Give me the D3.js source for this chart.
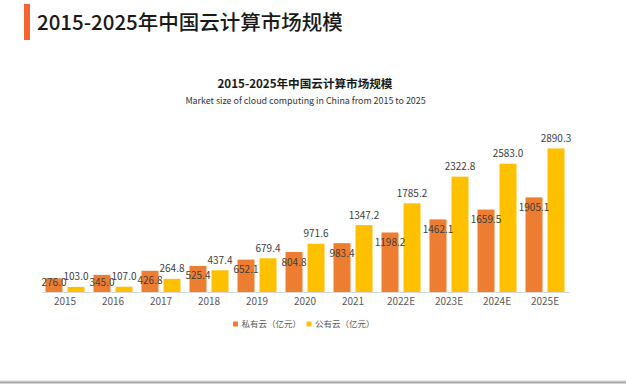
<!DOCTYPE html>
<html>
<head>
<meta charset="utf-8">
<script src="https://cdn.jsdelivr.net/npm/d3@7"></script>
<style>
  body { margin: 0; background: #fff; }
  svg { display: block; }
</style>
</head>
<body>
<svg id="chart" width="626" height="386"></svg>
<script>
// data
const years = ["2015", "2016", "2017", "2018", "2019", "2020", "2021", "2022E", "2023E", "2024E", "2025E"];
const privateCloud = [276.0, 345.0, 426.8, 525.4, 652.1, 804.8, 983.4, 1198.2, 1462.1, 1659.5, 1905.1];
const publicCloud = [103.0, 107.0, 264.8, 437.4, 679.4, 971.6, 1347.2, 1785.2, 2322.8, 2583.0, 2890.3];
const seriesNames = ["私有云（亿元）", "公有云（亿元）"];
const colors = ["#ED7D31", "#FFC000"];

const svg = d3.select("#chart");
const cjk = "'Noto Sans CJK SC', 'Noto Sans', sans-serif";

// page header
svg.append("rect").attr("x", 24).attr("y", 4).attr("width", 6).attr("height", 36).attr("fill", "#F7632F");
svg.append("text")
  .attr("x", 37).attr("y", 30)
  .attr("font-family", cjk).attr("font-size", 20.5).attr("font-weight", 500)
  .attr("fill", "#1a1a1a")
  .text("2015-2025年中国云计算市场规模");

// chart titles
svg.append("text")
  .attr("x", 305).attr("y", 87.5)
  .attr("text-anchor", "middle")
  .attr("font-family", cjk).attr("font-size", 11.6).attr("font-weight", 700)
  .attr("fill", "#1a1a1a")
  .text("2015-2025年中国云计算市场规模");
svg.append("text")
  .attr("x", 305.5).attr("y", 104)
  .attr("text-anchor", "middle")
  .attr("font-family", cjk).attr("font-size", 8.9)
  .attr("fill", "#333")
  .text("Market size of cloud computing in China from 2015 to 2025");

// scales
const x0 = d3.scaleBand().domain(years).range([41, 569]);
const x1 = d3.scaleBand().domain([0, 1]).range([4.5, 43.5]).paddingInner(0.227);
const y = d3.scaleLinear().domain([0, 3000]).range([292, 143]);

const rows = years.map((yr, i) => ({ yr: yr, vals: [privateCloud[i], publicCloud[i]] }));

const groups = svg.append("g").selectAll("g")
  .data(rows).join("g")
  .attr("transform", d => `translate(${x0(d.yr)},0)`);

groups.selectAll("rect")
  .data(d => d.vals.map((v, k) => ({ v: v, k: k })))
  .join("rect")
  .attr("x", d => x1(d.k))
  .attr("y", d => y(d.v))
  .attr("width", x1.bandwidth())
  .attr("height", d => y(0) - y(d.v))
  .attr("fill", d => colors[d.k]);

// value labels: private inside top, public above
groups.selectAll("text")
  .data(d => d.vals.map((v, k) => ({ v: v, k: k })))
  .join("text")
  .attr("x", d => x1(d.k) + x1.bandwidth() / 2)
  .attr("y", d => d.k === 0 ? Math.min(y(d.v) + 10, 282) : y(d.v) - 10)
  .attr("dy", "0.35em")
  .attr("text-anchor", "middle")
  .attr("font-family", cjk).attr("font-size", 10)
  .attr("fill", "#404040")
  .text(d => d.v.toFixed(1));

// x axis
const xAxis = svg.append("g")
  .attr("transform", "translate(0,292)")
  .call(d3.axisBottom(x0).tickSize(0).tickPadding(6));
xAxis.select(".domain").attr("stroke", "#d9d9d9");
xAxis.selectAll("text")
  .attr("font-family", cjk).attr("font-size", 10)
  .attr("fill", "#595959");

// legend
const legendX = [233, 306.5];
const legend = svg.append("g").selectAll("g")
  .data(seriesNames).join("g")
  .attr("transform", (d, i) => `translate(${legendX[i]},324)`);
legend.append("rect")
  .attr("x", 0).attr("y", -2.5).attr("width", 5).attr("height", 5)
  .attr("fill", (d, i) => colors[i]);
legend.append("text")
  .attr("x", 8.5).attr("dy", "0.35em")
  .attr("font-family", cjk).attr("font-size", 8.5)
  .attr("fill", "#595959")
  .text(d => d);

// bottom rule
svg.append("rect").attr("x", 0).attr("y", 380.5).attr("width", 626).attr("height", 1).attr("fill", "#d0d0d0");
svg.append("rect").attr("x", 0).attr("y", 381.5).attr("width", 626).attr("height", 2).attr("fill", "#a8a8a8");
</script>
</body>
</html>
